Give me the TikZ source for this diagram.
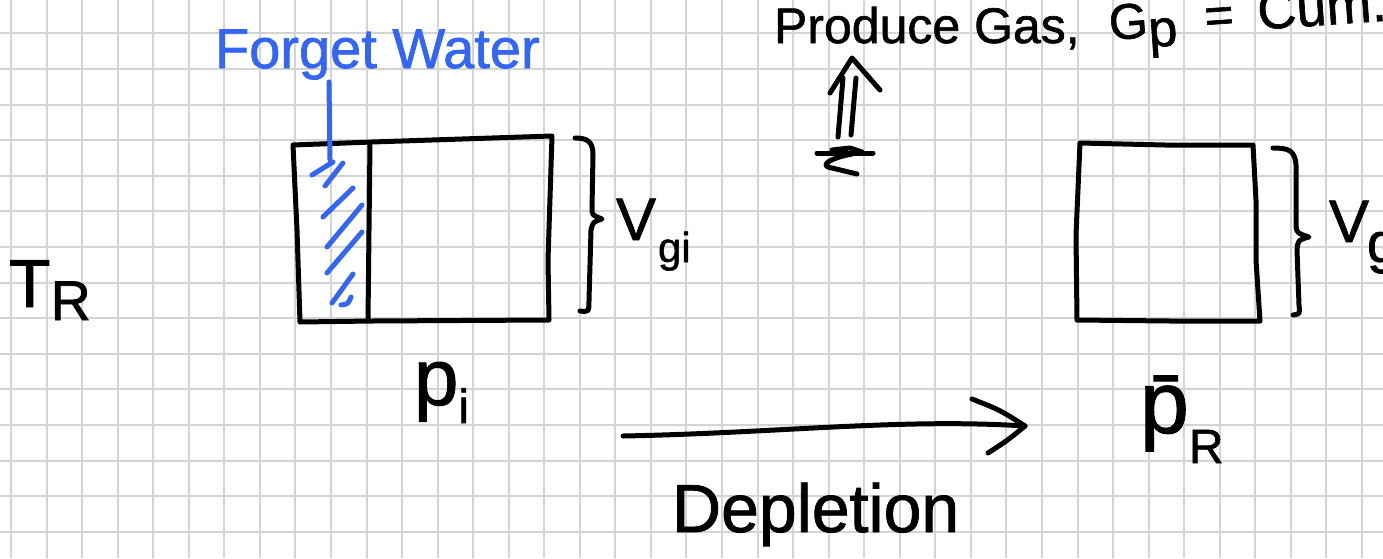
\documentclass[tikz,border=0pt]{standalone}
\usepackage{fontspec}
\setmainfont{Liberation Sans}[FakeBold=1]
\newfontfamily\handfont{Liberation Sans}[FakeBold=1.2]
\definecolor{gridc}{RGB}{212,212,212}
\definecolor{inkblue}{RGB}{52,102,246}
\tikzset{
  pen/.style={line width=2.5pt,line cap=round,line join=round},
  bluepen/.style={pen,draw=inkblue},
  hand/.style={inner sep=0pt,outer sep=0pt,anchor=base west},
  gridline/.style={draw=gridc,line width=1pt}
}
\begin{document}
\begin{tikzpicture}[x=0.5pt,y=-0.5pt]
\useasboundingbox (0,0) rectangle (1383,558);
\clip (0,0) rectangle (1383,558);
\fill[white] (0,0) rectangle (1383,558);
% grid paper
\foreach \k in {0,...,38} \draw[gridline] ({11+35.55*\k},0) -- ({11+35.55*\k},558);
\foreach \k in {0,...,14} \draw[gridline] (0,{33.3+35.6*\k}) -- (1383,{33.3+35.6*\k});

% texts
\node[hand, text=inkblue, font=\handfont\fontsize{28}{30}\selectfont] (fw) at (215,68) {Forget Water};
\node[hand, font=\handfont\fontsize{25}{27}\selectfont] (pg) at (774,43) {Produce Gas,};
\node[hand, font=\handfont\fontsize{25}{27}\selectfont, rotate=4] (gp) at (1110,40) {G\raisebox{-5pt}{\fontsize{26}{28}\selectfont p}\hspace{14pt}=\hspace{12pt}{\fontsize{27}{29}\selectfont Cum.}};
\node[hand, font=\handfont\fontsize{34}{36}\selectfont] (tr) at (9,307) {T\raisebox{-6.5pt}{\fontsize{28}{30}\selectfont R}};
\node[hand, font=\handfont\fontsize{30}{32}\selectfont] (vgi) at (616,240) {V\kern1pt\raisebox{-11pt}{\fontsize{21}{22}\selectfont gi}};
\node[hand, font=\handfont\fontsize{30}{32}\selectfont] (vg) at (1329,242) {V\kern-1pt\raisebox{-10pt}{\fontsize{28}{30}\selectfont g}};
\node[hand, font=\handfont\fontsize{40}{42}\selectfont] (pi) at (414,405) {p\raisebox{-9pt}{\fontsize{24}{26}\selectfont i}};
\node[hand, font=\handfont\fontsize{44}{46}\selectfont] (pr) at (1140,433) {\=p\raisebox{-15pt}{\fontsize{24}{26}\selectfont R}};
\node[hand, font=\handfont\fontsize{34}{36}\selectfont] (dep) at (672,532) {Depletion};

% box 1 (initial)
\draw[pen] (293,145) -- (372,142) -- (552,136) -- (548,260) -- (549,320) -- (372,321) -- (300,322) -- (297,230) -- cycle;
\draw[pen] (370,143) -- (369,230) -- (368,320);
% brace 1
\draw[pen] (575,138) .. controls (588,138) and (593,142) .. (593,155) -- (592,208)
  .. controls (592,215) .. (602,219) .. controls (593,222) .. (591,230) -- (589,300)
  .. controls (589,312) .. (580,311);

% forget-water pointer and hatching
\coordinate (fwtip) at (329,82);
\coordinate (fwend) at (330,160);
\draw[bluepen] (fwtip) -- (fwend);
\draw[bluepen] (312,175) -- (333,162);
\draw[bluepen] (325,186) -- (343,163);
\draw[bluepen] (323,217) -- (353,188);
\draw[bluepen] (327,247) -- (362,205);
\draw[bluepen] (327,273) -- (362,232);
\draw[bluepen] (332,303) -- (353,274);
\draw[bluepen] (341,305) .. controls (348,304) .. (351,297);

% box 2 (depleted)
\draw[pen] (1080,143) -- (1165,145) -- (1253,145) -- (1256,200) -- (1256,260) -- (1260,321) -- (1170,321) -- (1077,320) -- (1076,235) -- cycle;
% brace 2
\draw[pen] (1273,148) .. controls (1288,148) and (1295,150) .. (1296,165) -- (1296,226)
  .. controls (1297,233) .. (1309,237) .. controls (1298,240) .. (1297,250) -- (1299,305)
  .. controls (1300,314) .. (1293,315);

% produce-gas arrow
\coordinate (us1) at (838,137);
\coordinate (ut1) at (843,78);
\coordinate (us2) at (851,135);
\coordinate (ut2) at (856,78);
\coordinate (uapex) at (852,58);
\draw[pen] (us1) -- (ut1);
\draw[pen] (us2) -- (ut2);
\draw[pen] (830,93) -- (uapex) -- (880,90);
% well scribble
\draw[pen] (817,153) -- (873,153);
\draw[pen] (832,150) -- (850,148) -- (862,152);
\draw[pen] (852,154) .. controls (830,158) and (818,166) .. (832,168) -- (857,174);

% depletion arrow
\coordinate (a1) at (623,436);
\coordinate (a2) at (1025,426);
\draw[pen] (a1) .. controls (780,433) and (900,418) .. (a2);
\draw[pen] (972,399) .. controls (1000,410) .. (a2) .. controls (1008,440) .. (988,453);
\end{tikzpicture}
\end{document}
